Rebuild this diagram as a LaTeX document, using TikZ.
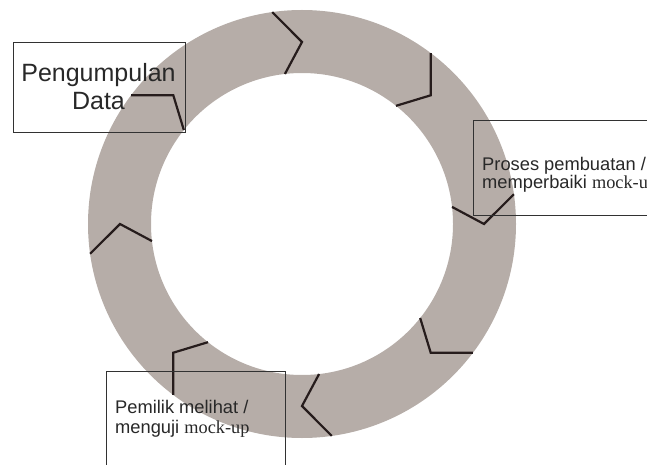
\documentclass[tikz,border=0pt]{standalone}
\usepackage{fontspec}
\setmainfont{Liberation Sans}
\newfontfamily\mockfont{Liberation Serif}
\definecolor{ringgray}{RGB}{182,173,168}
\definecolor{chevcol}{RGB}{38,28,28}
\definecolor{boxline}{RGB}{50,50,50}
\definecolor{txtcol}{RGB}{40,40,40}
\newcommand{\mockup}{{\mockfont mock-up}}
\begin{document}
\begin{tikzpicture}[x=1pt,y=1pt,
  chevron/.style={draw=chevcol, line width=2.2pt, line join=miter},
  stagebox/.style={draw=boxline, line width=1.4pt, inner sep=0pt, anchor=north west},
  boxtext/.style={text=txtcol, inner sep=0pt},
  smalltext/.style={boxtext, font=\fontsize{18.3}{16}\selectfont, align=left, anchor=north west}]
  \path[use as bounding box, clip] (0,0) rectangle (647,464);
  % cycle ring
  \coordinate (c) at (302,240);
  \fill[ringgray, even odd rule] (c) circle[radius=214] (c) circle[radius=151];
  % direction chevrons, clockwise flow
  \foreach \a in {90,45,0,-45,-90,-135,180,135} {
    \draw[chevron] ([shift={(\a+8:214)}]c) -- ([shift={(\a:182)}]c) -- ([shift={(\a+6.5:151)}]c);
  }
  % stage boxes
  \node[stagebox, minimum width=172pt, minimum height=90pt] (box1) at (13,422) {};
  \node[stagebox, minimum width=250pt, minimum height=95pt] (box2) at (473,344) {};
  \node[stagebox, minimum width=179pt, minimum height=150pt] (box3) at (106,93) {};
  % stage labels
  \node[boxtext, font=\fontsize{25}{28}\selectfont, align=center, anchor=north] (t1) at (98.5,401) {Pengumpulan\\Data};
  \node[smalltext] (t2) at (482,307) {Proses pembuatan /\\memperbaiki \mockup};
  \node[smalltext, font=\fontsize{18.3}{20}\selectfont] (t3) at (115,64) {Pemilik melihat /\\menguji \mockup};
\end{tikzpicture}
\end{document}
